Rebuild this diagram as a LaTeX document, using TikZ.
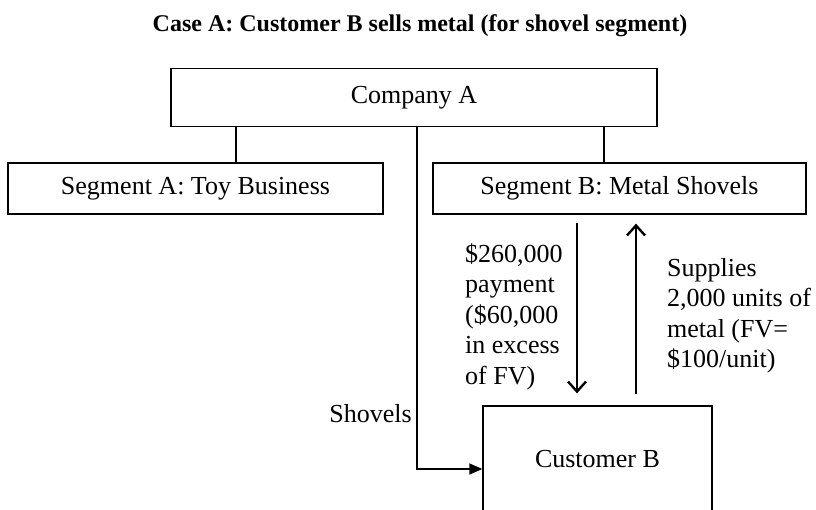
\documentclass[tikz,border=0pt]{standalone}
\usepackage{fontspec}
\setmainfont{Liberation Serif}
\usetikzlibrary{arrows.meta}
\begin{document}
\begin{tikzpicture}[x=1pt,y=-1pt,
  box/.style={draw, line width=1.3pt, rectangle, inner sep=0pt, font=\fontsize{26}{30}\selectfont},
  conn/.style={line width=1.3pt},
  flowarrow/.style={line width=2.4pt, -{Straight Barb[length=10pt,width=18pt,line width=2.4pt]}},
  shovelarrow/.style={line width=1.3pt, -{Triangle[length=13pt,width=11pt]}},
  lbl/.style={inner sep=0pt, align=left, font=\fontsize{26}{30.5}\selectfont}]
\path[use as bounding box] (0,0) rectangle (816,510);
\clip (0,0) rectangle (816,510);
\node[inner sep=0pt, anchor=base, font=\fontsize{24}{28}\selectfont\bfseries] (title) at (420,32) {Case A: Customer B sells metal (for shovel segment)};
\node[box, minimum width=486pt, minimum height=58pt] (company) at (414,97.5) {Company A};
\node[box, minimum width=375pt, minimum height=51pt] (segA) at (195.5,188.5) {Segment A: Toy Business};
\node[box, minimum width=373pt, minimum height=51pt] (segB) at (619.5,188.5) {Segment B: Metal Shovels};
\node[box, minimum width=229pt, minimum height=106pt] (custB) at (597.5,459) {Customer B};
\coordinate (la) at (236,0);
\coordinate (lb) at (604,0);
\coordinate (ls) at (417,0);
\coordinate (ly) at (0,469);
\coordinate (pa) at (577,0);
\coordinate (pb) at (636,0);
\draw[conn] (company.south -| la) -- (segA.north -| la);
\draw[conn] (company.south -| lb) -- (segB.north -| lb);
\draw[shovelarrow] (company.south -| ls) |- (custB.west |- ly);
\draw[flowarrow, shorten <=8pt, shorten >=12pt] (segB.south -| pa) -- (custB.north -| pa);
\draw[flowarrow, shorten <=11pt, shorten >=9pt] (custB.north -| pb) -- (segB.south -| pb);
\node[lbl, anchor=north west] (pay) at (465,243) {\$260,000\\payment\\(\$60,000\\in excess\\of FV)};
\node[lbl, anchor=north west] (sup) at (667,258) {Supplies\\2,000 units of\\metal (FV=\\\$100/unit)};
\node[lbl, anchor=base east] (shov) at (412,422) {Shovels};
\end{tikzpicture}
\end{document}
